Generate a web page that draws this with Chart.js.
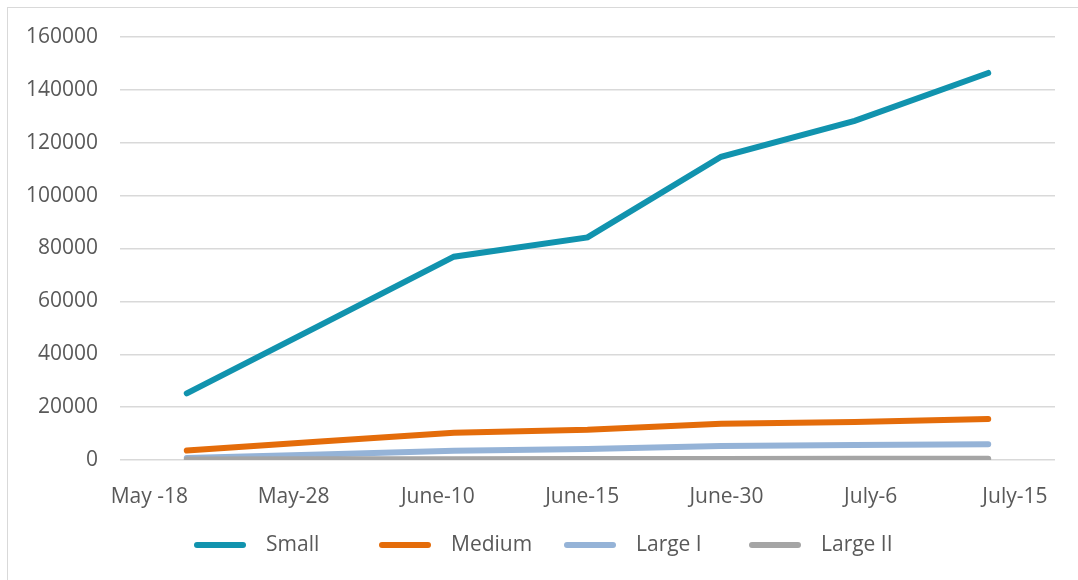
<!DOCTYPE html>
<html>
<head>
<meta charset="utf-8">
<script src="https://cdn.jsdelivr.net/npm/chart.js@4.4.0/dist/chart.umd.min.js"></script>
<style>
    html, body { margin: 0; padding: 0; background: #fff; overflow: hidden; }
    .frame {
        position: absolute; left: 7px; top: 7px; width: 1100px; height: 600px;
        border-left: 1px solid #d9d9d9; border-top: 1px solid #d9d9d9;
    }
    .wrap { position: absolute; left: 0; top: 0; width: 1078px; height: 580px; }
</style>
</head>
<body>
<div class="frame"></div>
<div class="wrap"><canvas id="growthChart"></canvas></div>
<script>
const periods = ['May -18', 'May-28', 'June-10', 'June-15', 'June-30', 'July-6', 'July-15'];
const smallValues = [25200, 51000, 76900, 84200, 114700, 128300, 146400];
const mediumValues = [3600, 7000, 10300, 11400, 13700, 14400, 15500];
const largeIValues = [800, 2100, 3500, 4200, 5300, 5700, 6000];
const largeIIValues = [150, 250, 300, 350, 400, 450, 500];
const yTicks = [0, 20000, 40000, 60000, 80000, 100000, 120000, 140000, 160000];

const FONT = "'Open Sans', sans-serif";
const TEXT_COLOR = '#595959';

function lineSeries(label, data, color, order) {
    return {
        label,
        data,
        borderColor: color,
        backgroundColor: color,
        borderWidth: 6,
        tension: 0,
        pointRadius: 0,
        pointHoverRadius: 0,
        borderCapStyle: 'round',
        borderJoinStyle: 'miter',
        fill: false,
        order
    };
}

// category labels are spread a bit wider than the points they belong to
const periodLabels = {
    id: 'periodLabels',
    afterDraw(chart) {
        const x = chart.scales.x;
        const ctx = chart.ctx;
        const first = x.getPixelForValue(0);
        const step = x.getPixelForValue(1) - first;
        const y = chart.chartArea.bottom + 37;
        ctx.save();
        ctx.font = `21px ${FONT}`;
        ctx.fillStyle = TEXT_COLOR;
        ctx.textAlign = 'center';
        ctx.textBaseline = 'middle';
        periods.forEach((label, i) => {
            ctx.fillText(label, first - 0.28 * step + i * 1.08 * step, y);
        });
        ctx.restore();
    }
};

// evenly spaced legend row under the axis
const bottomLegend = {
    id: 'bottomLegend',
    afterDraw(chart) {
        const ctx = chart.ctx;
        const slot = 185;
        const sets = chart.data.datasets;
        const startX = chart.width / 2 - (slot * sets.length) / 2 + 25;
        const y = chart.chartArea.bottom + 85;
        ctx.save();
        ctx.font = `21px ${FONT}`;
        ctx.textBaseline = 'middle';
        ctx.textAlign = 'left';
        sets.forEach((ds, i) => {
            const x0 = startX + i * slot;
            ctx.strokeStyle = ds.borderColor;
            ctx.lineWidth = 6;
            ctx.lineCap = 'round';
            ctx.beginPath();
            ctx.moveTo(x0 + 3, y);
            ctx.lineTo(x0 + 49, y);
            ctx.stroke();
            ctx.fillStyle = TEXT_COLOR;
            ctx.fillText(ds.label, x0 + 72, y);
        });
        ctx.restore();
    }
};

document.addEventListener('DOMContentLoaded', function() {
    const ctx = document.getElementById('growthChart').getContext('2d');
    new Chart(ctx, {
        type: 'line',
        data: {
            labels: periods,
            datasets: [
                lineSeries('Small', smallValues, '#1193ae', 4),
                lineSeries('Medium', mediumValues, '#e46c0a', 3),
                lineSeries('Large I', largeIValues, '#95b3d7', 2),
                lineSeries('Large II', largeIIValues, '#a5a5a5', 1)
            ]
        },
        plugins: [periodLabels, bottomLegend],
        options: {
            responsive: true,
            maintainAspectRatio: false,
            animation: false,
            layout: { padding: { top: 37, right: 23, bottom: 60, left: 0 } },
            plugins: {
                tooltip: { enabled: false },
                legend: { display: false }
            },
            scales: {
                x: {
                    offset: true,
                    grid: { display: false, drawTicks: false },
                    border: { display: false },
                    ticks: { display: false },
                    afterFit: (scale) => { scale.height = 60; }
                },
                y: {
                    min: 0,
                    max: 160000,
                    afterBuildTicks: (scale) => {
                        scale.ticks = yTicks.map(v => ({ value: v }));
                    },
                    grid: { color: '#d9d9d9', lineWidth: 1.5, drawTicks: false },
                    border: { display: false },
                    ticks: {
                        font: { family: FONT, size: 21 },
                        color: TEXT_COLOR,
                        padding: 22,
                        callback: (v) => String(v)
                    },
                    afterFit: (scale) => { scale.width = 120; }
                }
            }
        }
    });
});
</script>
</body>
</html>
